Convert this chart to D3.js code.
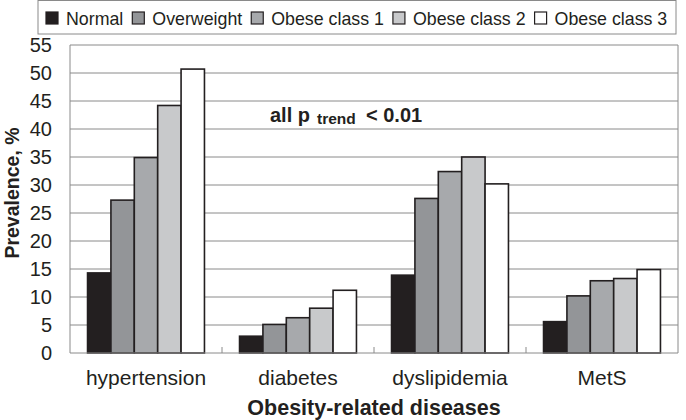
<!DOCTYPE html>
<html>
<head>
<meta charset="utf-8">
<script src="https://cdn.jsdelivr.net/npm/d3@7"></script>
<style>
  body { margin: 0; background: #fff; }
  text { font-family: "Liberation Sans", Arial, sans-serif; fill: #231f20; }
</style>
</head>
<body>
<svg id="chart" width="686" height="420"></svg>
<script>
// categories and series
var diseases = ["hypertension", "diabetes", "dyslipidemia", "MetS"];
var groups = ["Normal", "Overweight", "Obese class 1", "Obese class 2", "Obese class 3"];
var normal      = [14.3, 3.0, 13.9, 5.6];
var overweight  = [27.3, 5.1, 27.6, 10.2];
var obese1      = [34.9, 6.3, 32.4, 12.9];
var obese2      = [44.2, 8.0, 35.0, 13.3];
var obese3      = [50.7, 11.2, 30.2, 14.9];
var yTicks = [0, 5, 10, 15, 20, 25, 30, 35, 40, 45, 50, 55];
var fills = ["#231f20", "#939598", "#a7a9ac", "#c8c9cb", "#ffffff"];

var series = [normal, overweight, obese1, obese2, obese3];

var width = 686, height = 420;
var margin = { top: 45, right: 8, bottom: 67, left: 70 };
var plotW = width - margin.left - margin.right;
var plotH = height - margin.top - margin.bottom;

var svg = d3.select("#chart");
var g = svg.append("g")
    .attr("transform", "translate(" + margin.left + "," + margin.top + ")");

var x0 = d3.scaleBand().domain(diseases).range([0, plotW]).paddingInner(0).paddingOuter(0);
// Excel-style gap width of 150%: 5 bars + 1.5 bars gap per category
var x1 = d3.scaleBand().domain(groups)
    .range([x0.bandwidth() * 0.75 / 6.5, x0.bandwidth() * (1 - 0.75 / 6.5)]);
var y = d3.scaleLinear().domain([0, 55]).range([plotH, 0]);

// gridlines
g.append("g").selectAll("line")
    .data(yTicks.filter(function(d) { return d > 0; }))
  .enter().append("line")
    .attr("x1", 0).attr("x2", plotW)
    .attr("y1", function(d) { return y(d); })
    .attr("y2", function(d) { return y(d); })
    .attr("stroke", "#8a8a8a").attr("stroke-width", 1);

// plot frame (left and right)
g.append("line").attr("x1", 0).attr("x2", 0).attr("y1", 0).attr("y2", plotH)
    .attr("stroke", "#8a8a8a");
g.append("line").attr("x1", plotW).attr("x2", plotW).attr("y1", 0).attr("y2", plotH)
    .attr("stroke", "#8a8a8a");

// bars
var cat = g.selectAll("g.cat")
    .data(diseases)
  .enter().append("g")
    .attr("class", "cat")
    .attr("transform", function(d) { return "translate(" + x0(d) + ",0)"; });

cat.selectAll("rect")
    .data(function(d, i) {
      return groups.map(function(gr, j) { return { group: gr, value: series[j][i], idx: j }; });
    })
  .enter().append("rect")
    .attr("x", function(d) { return x1(d.group); })
    .attr("width", x1.bandwidth())
    .attr("y", function(d) { return y(d.value); })
    .attr("height", function(d) { return y(0) - y(d.value); })
    .attr("fill", function(d) { return fills[d.idx]; })
    .attr("stroke", "#231f20")
    .attr("stroke-width", 1.6);

// x axis baseline and category ticks
g.append("line").attr("x1", 0).attr("x2", plotW).attr("y1", plotH).attr("y2", plotH)
    .attr("stroke", "#8a8a8a");
g.append("g").selectAll("line")
    .data(diseases.slice(1))
  .enter().append("line")
    .attr("x1", function(d) { return x0(d); })
    .attr("x2", function(d) { return x0(d); })
    .attr("y1", plotH - 6).attr("y2", plotH)
    .attr("stroke", "#8a8a8a");

// y axis labels
var yAxis = d3.axisLeft(y).tickValues(yTicks).tickSize(0).tickPadding(18);
var yg = g.append("g").call(yAxis);
yg.select(".domain").remove();
yg.selectAll("text")
    .style("font-family", '"Liberation Sans", Arial, sans-serif')
    .style("font-size", "20px")
    .attr("fill", "#231f20");

// x axis labels
g.append("g").selectAll("text")
    .data(diseases)
  .enter().append("text")
    .attr("x", function(d) { return x0(d) + x0.bandwidth() / 2; })
    .attr("y", plotH + 32)
    .attr("text-anchor", "middle")
    .style("font-size", "21px")
    .text(function(d) { return d; });

// axis titles
svg.append("text")
    .attr("x", margin.left + plotW / 2).attr("y", 415)
    .attr("text-anchor", "middle")
    .style("font-size", "21.5px").style("font-weight", "bold")
    .text("Obesity-related diseases");

svg.append("text")
    .attr("transform", "translate(19,193) rotate(-90)")
    .attr("text-anchor", "middle")
    .style("font-size", "19.5px").style("font-weight", "bold")
    .text("Prevalence, %");

// annotation
var note = svg.append("text")
    .attr("y", 121.5)
    .style("font-size", "20px").style("font-weight", "bold");
note.append("tspan").attr("x", 270).text("all p");
note.append("tspan").attr("x", 317).attr("y", 123.5).style("font-size", "15.5px").text("trend");
note.append("tspan").attr("x", 366).attr("y", 121.5).text("< 0.01");

// legend
var legend = svg.append("g");
legend.append("rect")
    .attr("x", 38).attr("y", 0.5).attr("width", 638).attr("height", 33.5)
    .attr("fill", "#fff").attr("stroke", "#8a8a8a");

var lx = 46;
groups.forEach(function(gr, i) {
  var item = legend.append("g").attr("transform", "translate(" + lx + ",0)");
  item.append("rect")
      .attr("x", 0).attr("y", 12).attr("width", 12).attr("height", 12)
      .attr("fill", fills[i]).attr("stroke", "#231f20").attr("stroke-width", 1.2);
  var t = item.append("text")
      .attr("x", 20).attr("y", 25)
      .style("font-size", "17.8px")
      .text(gr);
  lx += 20 + t.node().getComputedTextLength() + 9;
});
</script>
</body>
</html>
